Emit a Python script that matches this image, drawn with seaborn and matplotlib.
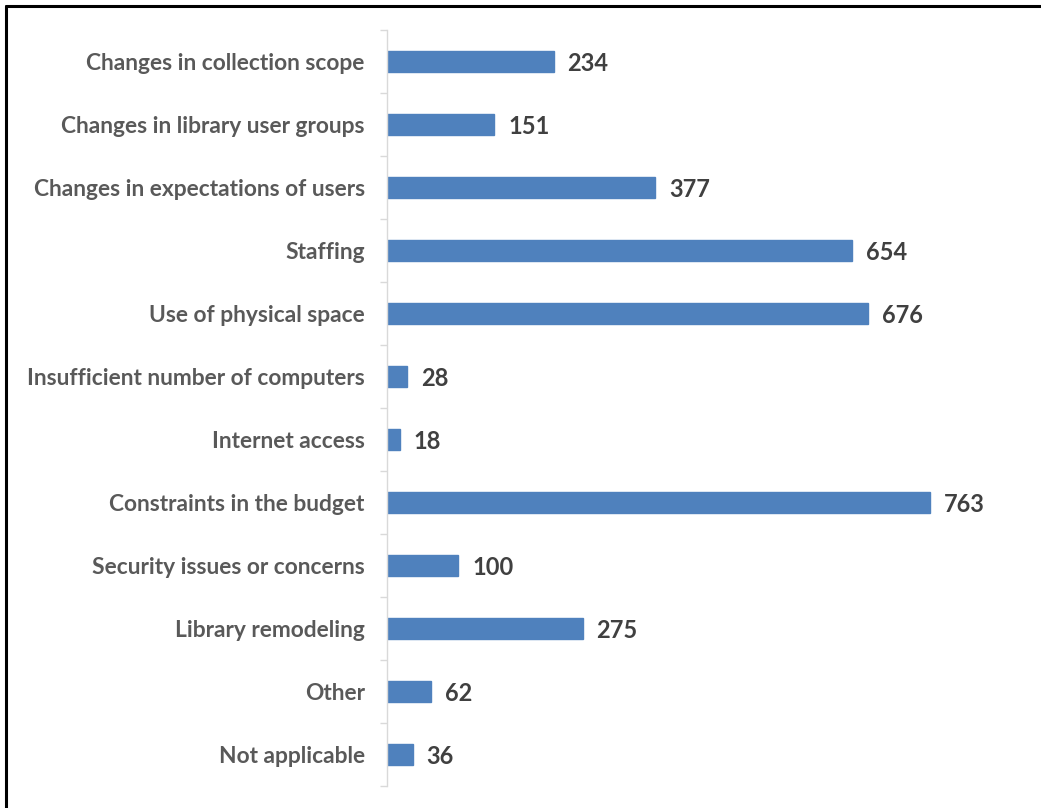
import matplotlib
matplotlib.use("Agg")
import matplotlib.pyplot as plt
from matplotlib.lines import Line2D
import numpy as np
import pandas as pd
import seaborn as sns

categories = [
    "Changes in collection scope",
    "Changes in library user groups",
    "Changes in expectations of users",
    "Staffing",
    "Use of physical space",
    "Insufficient number of computers",
    "Internet access",
    "Constraints in the budget",
    "Security issues or concerns",
    "Library remodeling",
    "Other",
    "Not applicable",
]
counts = [234, 151, 377, 654, 676, 28, 18, 763, 100, 275, 62, 36]

df = pd.DataFrame({"category": categories, "count": counts})

sns.set_theme(style="white")
plt.rcParams["font.family"] = ["Lato", "DejaVu Sans"]

W, H = 1041, 808
fig = plt.figure(figsize=(W / 100, H / 100), dpi=100)
# axes placed in pixel terms: left edge 387, top 30, bottom 786
x_max = 900
px_per_unit = (930 - 387) / 763
ax = fig.add_axes([387 / W, 1 - 786 / H, x_max * px_per_unit / W, (786 - 30) / H])

bar_color = "#4F81BD"
sns.barplot(data=df, x="count", y="category", orient="h", color=bar_color,
            width=0.34, saturation=1, ax=ax, edgecolor=bar_color)

ax.set_xlim(0, x_max)
ax.set_ylim(len(categories) - 0.5, -0.5)
ax.set_xlabel("")
ax.set_ylabel("")
ax.set_xticks([])

for s in ["top", "right", "bottom"]:
    ax.spines[s].set_visible(False)
ax.spines["left"].set_color("#D9D9D9")
ax.spines["left"].set_linewidth(1.0)

ax.tick_params(axis="y", which="major", left=False, length=0, pad=16,
               labelsize=16.4, labelcolor="#595959")
for lbl in ax.get_yticklabels():
    lbl.set_fontweight("bold")
ax.set_yticks(np.arange(-0.5, len(categories)), minor=True)
ax.tick_params(axis="y", which="minor", left=True, length=5, width=1.0,
               color="#D9D9D9", direction="out")

for i, v in enumerate(counts):
    ax.annotate(f"{v}", xy=(v, i), xytext=(10, 0), textcoords="offset points",
                va="center_baseline", ha="left", fontsize=17, fontweight="bold",
                color="#404040")

# outer frame along the top and left
fig.add_artist(Line2D([6 / W, 1], [1 - 6 / H, 1 - 6 / H], color="black",
                      lw=2.2, transform=fig.transFigure))
fig.add_artist(Line2D([6 / W, 6 / W], [0, 1 - 6 / H], color="black",
                      lw=2.2, transform=fig.transFigure))

fig.savefig("out.png", dpi=100, facecolor="white")
